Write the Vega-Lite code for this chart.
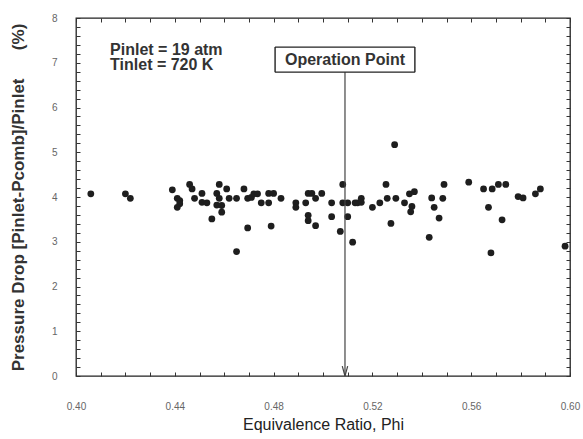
{
  "$schema": "https://vega.github.io/schema/vega-lite/v6.json",
  "width": 494,
  "height": 358,
  "autosize": {"type": "none"},
  "padding": {"left": 76, "top": 18, "right": 13, "bottom": 63},
  "background": "white",
  "config": {
    "view": {"stroke": "#222", "strokeWidth": 1.3},
    "font": "Liberation Sans"
  },
  "datasets": {
    "pts": [
      {"phi": 0.406, "dp": 4.07}, {"phi": 0.420, "dp": 4.07}, {"phi": 0.422, "dp": 3.97},
      {"phi": 0.439, "dp": 4.16}, {"phi": 0.441, "dp": 3.97}, {"phi": 0.442, "dp": 3.92},
      {"phi": 0.442, "dp": 3.85}, {"phi": 0.441, "dp": 3.77}, {"phi": 0.446, "dp": 4.28},
      {"phi": 0.447, "dp": 4.18}, {"phi": 0.448, "dp": 3.97}, {"phi": 0.451, "dp": 4.08},
      {"phi": 0.451, "dp": 3.88}, {"phi": 0.453, "dp": 3.87}, {"phi": 0.455, "dp": 3.51},
      {"phi": 0.458, "dp": 4.28}, {"phi": 0.457, "dp": 4.08}, {"phi": 0.458, "dp": 3.97},
      {"phi": 0.461, "dp": 4.18}, {"phi": 0.462, "dp": 3.97}, {"phi": 0.465, "dp": 3.97},
      {"phi": 0.457, "dp": 3.82}, {"phi": 0.459, "dp": 3.81}, {"phi": 0.459, "dp": 3.66},
      {"phi": 0.465, "dp": 2.78}, {"phi": 0.468, "dp": 4.18}, {"phi": 0.4695, "dp": 3.97},
      {"phi": 0.471, "dp": 3.99}, {"phi": 0.472, "dp": 4.07}, {"phi": 0.4735, "dp": 4.07},
      {"phi": 0.4695, "dp": 3.31}, {"phi": 0.475, "dp": 3.87}, {"phi": 0.478, "dp": 3.87},
      {"phi": 0.478, "dp": 4.08}, {"phi": 0.480, "dp": 4.08}, {"phi": 0.479, "dp": 3.35},
      {"phi": 0.483, "dp": 3.97}, {"phi": 0.489, "dp": 3.87}, {"phi": 0.489, "dp": 3.77},
      {"phi": 0.493, "dp": 3.87}, {"phi": 0.494, "dp": 4.08}, {"phi": 0.4955, "dp": 4.08},
      {"phi": 0.497, "dp": 3.97}, {"phi": 0.4995, "dp": 4.08}, {"phi": 0.494, "dp": 3.59},
      {"phi": 0.494, "dp": 3.47}, {"phi": 0.497, "dp": 3.36}, {"phi": 0.5035, "dp": 3.87},
      {"phi": 0.5035, "dp": 3.56}, {"phi": 0.507, "dp": 3.23}, {"phi": 0.508, "dp": 4.28},
      {"phi": 0.508, "dp": 3.87}, {"phi": 0.510, "dp": 3.87}, {"phi": 0.510, "dp": 3.56},
      {"phi": 0.512, "dp": 2.99}, {"phi": 0.513, "dp": 3.87}, {"phi": 0.514, "dp": 3.87},
      {"phi": 0.5155, "dp": 3.97}, {"phi": 0.5155, "dp": 3.88}, {"phi": 0.520, "dp": 3.77},
      {"phi": 0.523, "dp": 3.87}, {"phi": 0.5255, "dp": 4.28}, {"phi": 0.526, "dp": 3.97},
      {"phi": 0.5295, "dp": 3.97}, {"phi": 0.5275, "dp": 3.41}, {"phi": 0.533, "dp": 3.87},
      {"phi": 0.529, "dp": 5.17}, {"phi": 0.535, "dp": 4.07}, {"phi": 0.537, "dp": 4.12},
      {"phi": 0.536, "dp": 3.79}, {"phi": 0.5355, "dp": 3.67}, {"phi": 0.543, "dp": 3.10},
      {"phi": 0.544, "dp": 3.98}, {"phi": 0.545, "dp": 3.77}, {"phi": 0.547, "dp": 3.53},
      {"phi": 0.5485, "dp": 3.97}, {"phi": 0.549, "dp": 4.28}, {"phi": 0.559, "dp": 4.33},
      {"phi": 0.565, "dp": 4.18}, {"phi": 0.5685, "dp": 4.18}, {"phi": 0.567, "dp": 3.77},
      {"phi": 0.568, "dp": 2.75}, {"phi": 0.571, "dp": 4.28}, {"phi": 0.5725, "dp": 3.49},
      {"phi": 0.574, "dp": 4.28}, {"phi": 0.579, "dp": 4.01}, {"phi": 0.581, "dp": 3.98},
      {"phi": 0.586, "dp": 4.07}, {"phi": 0.588, "dp": 4.18}, {"phi": 0.598, "dp": 2.90}
    ],
    "cond": [
      {"x": 0.4138, "y": 7.28, "label": "Pinlet = 19 atm"},
      {"x": 0.4138, "y": 6.95, "label": "Tinlet = 720 K"}
    ],
    "op": [
      {"x": 0.5089, "y": 7.07, "label": "Operation Point"}
    ],
    "box": [
      {"x1": 0.4806, "x2": 0.5372, "y1": 7.35, "y2": 7.35},
      {"x1": 0.4806, "x2": 0.5372, "y1": 6.79, "y2": 6.79},
      {"x1": 0.4806, "x2": 0.4806, "y1": 6.79, "y2": 7.35},
      {"x1": 0.5372, "x2": 0.5372, "y1": 6.79, "y2": 7.35}
    ],
    "arrow": [
      {"x1": 0.5089, "x2": 0.5089, "y1": 6.79, "y2": 0.0},
      {"x1": 0.5089, "x2": 0.5078, "y1": 0.0, "y2": 0.22},
      {"x1": 0.5089, "x2": 0.5100, "y1": 0.0, "y2": 0.22}
    ]
  },
  "resolve": {"axis": {"x": "independent", "y": "independent"}},
  "layer": [
    {
      "data": {"name": "pts"},
      "mark": {"type": "circle", "size": 46, "opacity": 1, "color": "#1e1e1e"},
      "encoding": {
        "x": {
          "field": "phi", "type": "quantitative",
          "scale": {"domain": [0.4, 0.6], "nice": false, "zero": false},
          "axis": {
            "orient": "bottom", "offset": -4, "tickSize": 4, "domain": false, "grid": false,
            "tickColor": "#333", "tickWidth": 1,
            "values": [0.40,0.41,0.42,0.43,0.44,0.45,0.46,0.47,0.48,0.49,0.50,0.51,0.52,0.53,0.54,0.55,0.56,0.57,0.58,0.59,0.60],
            "labelExpr": "abs(datum.value*25 - round(datum.value*25)) < 0.001 ? format(datum.value, '.2f') : ''",
            "labelPadding": 25, "labelFontSize": 10, "labelColor": "#666", "labelFlush": false,
            "title": "Equivalence Ratio, Phi",
            "titleFontSize": 16, "titleFontWeight": "normal", "titleColor": "#222",
            "titlePadding": 5
          }
        },
        "y": {
          "field": "dp", "type": "quantitative",
          "scale": {"domain": [0, 8], "nice": false},
          "axis": {
            "orient": "left", "offset": -4, "tickSize": 4, "domain": false, "grid": false,
            "tickColor": "#333", "tickWidth": 1,
            "values": [0,0.2,0.4,0.6,0.8,1,1.2,1.4,1.6,1.8,2,2.2,2.4,2.6,2.8,3,3.2,3.4,3.6,3.8,4,4.2,4.4,4.6,4.8,5,5.2,5.4,5.6,5.8,6,6.2,6.4,6.6,6.8,7,7.2,7.4,7.6,7.8,8],
            "labelExpr": "abs(datum.value - round(datum.value)) < 0.001 ? format(datum.value, 'd') : ''",
            "labelPadding": 19, "labelFontSize": 10, "labelColor": "#666", "labelFlush": false,
            "title": "Pressure Drop [Pinlet-Pcomb]/Pinlet\u00a0\u00a0\u00a0\u00a0\u00a0\u00a0(%)",
            "titleFontSize": 17, "titleFontWeight": "bold", "titleColor": "#333",
            "titlePadding": 24
          }
        }
      }
    },
    {
      "data": {"name": "pts"},
      "mark": {"type": "circle", "opacity": 0},
      "encoding": {
        "x": {
          "field": "phi", "type": "quantitative",
          "axis": {
            "orient": "top", "offset": -4, "tickSize": 4, "domain": false, "grid": false,
            "tickColor": "#333", "tickWidth": 1, "labels": false, "title": null,
            "values": [0.40,0.41,0.42,0.43,0.44,0.45,0.46,0.47,0.48,0.49,0.50,0.51,0.52,0.53,0.54,0.55,0.56,0.57,0.58,0.59,0.60]
          }
        },
        "y": {
          "field": "dp", "type": "quantitative",
          "axis": {
            "orient": "right", "offset": -4, "tickSize": 4, "domain": false, "grid": false,
            "tickColor": "#333", "tickWidth": 1, "labels": false, "title": null,
            "values": [0,0.2,0.4,0.6,0.8,1,1.2,1.4,1.6,1.8,2,2.2,2.4,2.6,2.8,3,3.2,3.4,3.6,3.8,4,4.2,4.4,4.6,4.8,5,5.2,5.4,5.6,5.8,6,6.2,6.4,6.6,6.8,7,7.2,7.4,7.6,7.8,8]
          }
        }
      }
    },
    {
      "data": {"name": "arrow"},
      "mark": {"type": "rule", "color": "#444", "strokeWidth": 1.2},
      "encoding": {
        "x": {"field": "x1", "type": "quantitative", "axis": null},
        "x2": {"field": "x2"},
        "y": {"field": "y1", "type": "quantitative", "axis": null},
        "y2": {"field": "y2"}
      }
    },
    {
      "data": {"name": "box"},
      "mark": {"type": "rule", "color": "#222", "strokeWidth": 1.4},
      "encoding": {
        "x": {"field": "x1", "type": "quantitative", "axis": null},
        "x2": {"field": "x2"},
        "y": {"field": "y1", "type": "quantitative", "axis": null},
        "y2": {"field": "y2"}
      }
    },
    {
      "data": {"name": "op"},
      "mark": {"type": "text", "fontSize": 16, "fontWeight": "bold", "color": "#333", "align": "center", "baseline": "middle"},
      "encoding": {
        "x": {"field": "x", "type": "quantitative", "axis": null},
        "y": {"field": "y", "type": "quantitative", "axis": null},
        "text": {"field": "label"}
      }
    },
    {
      "data": {"name": "cond"},
      "mark": {"type": "text", "fontSize": 16, "fontWeight": "bold", "color": "#333", "align": "left", "baseline": "middle"},
      "encoding": {
        "x": {"field": "x", "type": "quantitative", "axis": null},
        "y": {"field": "y", "type": "quantitative", "axis": null},
        "text": {"field": "label"}
      }
    }
  ]
}
